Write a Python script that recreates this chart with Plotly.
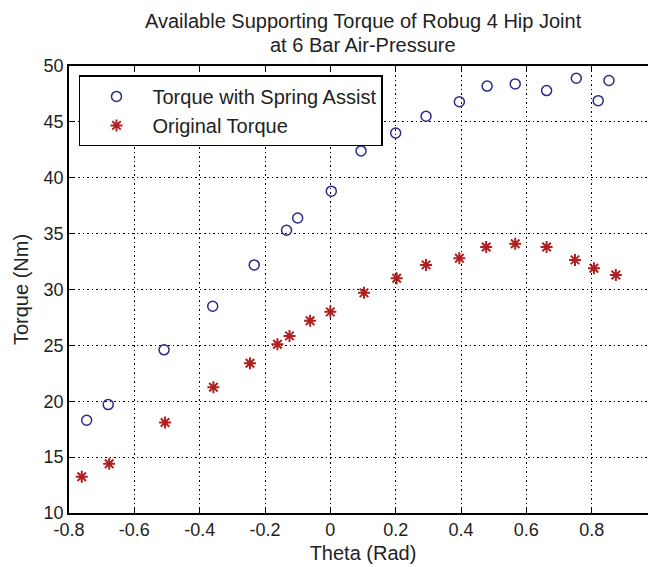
import plotly.graph_objects as go

spring_x = [-0.746, -0.68, -0.509, -0.36, -0.233, -0.134, -0.1, 0.003, 0.094, 0.2, 0.293, 0.395, 0.48, 0.566, 0.662, 0.753, 0.82, 0.853]
spring_y = [18.3, 19.7, 24.6, 28.5, 32.2, 35.3, 36.4, 38.8, 42.4, 44.0, 45.5, 46.8, 48.2, 48.4, 47.8, 48.9, 46.9, 48.7]

orig_x = [-0.761, -0.677, -0.506, -0.358, -0.246, -0.162, -0.125, -0.062, 0.0, 0.103, 0.203, 0.293, 0.395, 0.477, 0.566, 0.662, 0.749, 0.807, 0.874]
orig_y = [13.25, 14.4, 18.1, 21.25, 23.4, 25.1, 25.85, 27.2, 28.0, 29.7, 31.0, 32.2, 32.8, 33.8, 34.1, 33.8, 32.65, 31.9, 31.3]

x_ticks = [-0.8, -0.6, -0.4, -0.2, 0, 0.2, 0.4, 0.6, 0.8, 1]
x_tick_labels = ["-0.8", "-0.6", "-0.4", "-0.2", "0", "0.2", "0.4", "0.6", "0.8", "1"]
y_ticks = [10, 15, 20, 25, 30, 35, 40, 45, 50]

title_lines = ["Available Supporting Torque of Robug 4 Hip Joint", "at 6 Bar Air-Pressure"]

FONT = "Liberation Sans, Arial, Helvetica, sans-serif"

fig = go.Figure()
fig.add_trace(go.Scatter(
    x=spring_x, y=spring_y, mode="markers", name="Torque with Spring Assist",
    marker=dict(symbol="circle-open", size=10, color="#2a2a8c", line=dict(width=1.5)),
))
fig.add_trace(go.Scatter(
    x=orig_x, y=orig_y, mode="markers", name="Original Torque",
    marker=dict(symbol="asterisk-open", size=10, color="#b02020", line=dict(width=2)),
))

axis_common = dict(
    showgrid=True, gridcolor="black", griddash="1.5px,3px", gridwidth=1,
    showline=True, linecolor="black", linewidth=1.5, mirror="ticks",
    ticks="inside", ticklen=6, tickcolor="black", zeroline=False,
    automargin=False,
    tickfont=dict(family=FONT, size=18, color="#222"),
)

fig.update_xaxes(
    range=[-0.8, 1], tickvals=x_ticks, ticktext=x_tick_labels,
    title=dict(text="Theta (Rad)", font=dict(family=FONT, size=20, color="#222"), standoff=7),
    **axis_common,
)
fig.update_yaxes(
    range=[10, 50], tickvals=y_ticks,
    title=dict(text="Torque (Nm)", font=dict(family=FONT, size=20, color="#222"), standoff=10),
    **axis_common,
)

fig.add_annotation(text=title_lines[0], xref="paper", yref="paper", x=0.5, y=1,
                   xanchor="center", yanchor="middle", yshift=45, showarrow=False,
                   font=dict(family=FONT, size=20, color="#222"))
fig.add_annotation(text=title_lines[1], xref="paper", yref="paper", x=0.5, y=1,
                   xanchor="center", yanchor="middle", yshift=21, showarrow=False,
                   font=dict(family=FONT, size=20, color="#222"))

# page body has an 8px margin, so the figure is offset by 8px in the window
fig.update_layout(
    width=656, height=567,
    margin=dict(l=61, r=7, t=58, b=62),
    paper_bgcolor="white", plot_bgcolor="white",
    showlegend=True,
    legend=dict(
        x=0.017, y=0.979, xanchor="left", yanchor="top",
        bgcolor="white", bordercolor="black", borderwidth=1.5,
        font=dict(family=FONT, size=20, color="#222"),
        itemwidth=62,
    ),
)

fig.write_html("out.html")
